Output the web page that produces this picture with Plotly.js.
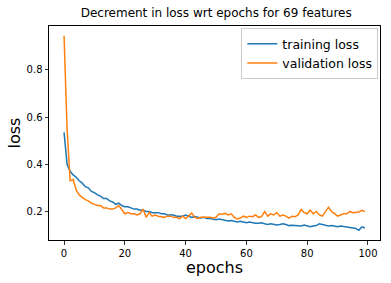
<!DOCTYPE html>
<html>
<head>
<meta charset="utf-8">
<script src="https://cdn.plot.ly/plotly-3.0.1.min.js"></script>
<style>html,body{margin:0;padding:0;background:#fff;}#chart{width:391px;height:283px;}</style>
</head>
<body>
<div id="chart"></div>
<script>
const epochs = Array.from({length: 100}, (_, i) => i);
const trainingLoss = [
0.535,0.40,0.37,0.355,0.345,0.33,0.32,0.305,0.30,0.285,
0.28,0.27,0.265,0.255,0.255,0.245,0.24,0.23,0.235,0.225,
0.22,0.22,0.215,0.21,0.21,0.205,0.205,0.20,0.20,0.195,
0.195,0.195,0.19,0.19,0.185,0.185,0.185,0.18,0.18,0.18,
0.185,0.18,0.175,0.178,0.175,0.172,0.175,0.17,0.17,0.168,
0.165,0.168,0.165,0.16,0.16,0.162,0.158,0.155,0.158,0.155,
0.152,0.155,0.152,0.15,0.15,0.152,0.148,0.145,0.148,0.145,
0.143,0.145,0.148,0.145,0.14,0.142,0.14,0.14,0.138,0.142,
0.14,0.135,0.138,0.14,0.148,0.145,0.14,0.138,0.14,0.137,
0.135,0.138,0.135,0.133,0.132,0.13,0.128,0.12,0.135,0.13];
const validationLoss = [
0.945,0.55,0.33,0.335,0.29,0.27,0.26,0.25,0.245,0.235,
0.23,0.225,0.225,0.215,0.215,0.21,0.21,0.215,0.225,0.205,
0.19,0.195,0.19,0.19,0.185,0.19,0.21,0.175,0.195,0.18,
0.185,0.18,0.178,0.175,0.18,0.18,0.175,0.175,0.17,0.18,
0.17,0.18,0.193,0.175,0.17,0.175,0.175,0.178,0.175,0.172,
0.175,0.19,0.188,0.192,0.185,0.19,0.175,0.168,0.172,0.18,
0.175,0.18,0.178,0.185,0.175,0.178,0.2,0.18,0.19,0.185,
0.195,0.18,0.185,0.18,0.172,0.18,0.178,0.185,0.208,0.195,
0.19,0.205,0.19,0.2,0.185,0.18,0.2,0.218,0.2,0.19,
0.18,0.185,0.19,0.19,0.2,0.195,0.198,0.198,0.205,0.2];
const seriesNames = ["training loss", "validation loss"];
const titleText = "Decrement in loss wrt epochs for 69 features";
const xTicks = [0, 20, 40, 60, 80, 100];
const yTicks = [0.2, 0.4, 0.6, 0.8];

const font = "DejaVu Sans, sans-serif";
const traces = [
  {x: epochs, y: trainingLoss, name: seriesNames[0], type: "scatter", mode: "lines",
   line: {color: "#1f77b4", width: 1.5}},
  {x: epochs, y: validationLoss, name: seriesNames[1], type: "scatter", mode: "lines",
   line: {color: "#ff7f0e", width: 1.5}}
];
const axisCommon = {
  showgrid: false, zeroline: false, showline: true, mirror: true,
  linecolor: "#000", linewidth: 1, ticks: "outside", ticklen: 3.5, tickwidth: 0.8,
  tickcolor: "#000", tickfont: {family: font, size: 10, color: "#000"}
};
const layout = {
  width: 391, height: 283,
  margin: {l: 49, r: 11, t: 26, b: 43, pad: 0},
  paper_bgcolor: "#fff", plot_bgcolor: "#fff",
  title: {text: titleText, font: {family: font, size: 12, color: "#000"},
          x: 0.553, xanchor: "center", y: 0.955, yanchor: "middle"},
  xaxis: Object.assign({}, axisCommon, {
    range: [-4.95, 103.95], tickvals: xTicks, ticktext: xTicks.map(String),
    title: {text: "epochs", font: {family: font, size: 16, color: "#000"}, standoff: 4}
  }),
  yaxis: Object.assign({}, axisCommon, {
    range: [0.079, 0.986], tickvals: yTicks, ticktext: yTicks.map(v => v.toFixed(1)),
    title: {text: "loss", font: {family: font, size: 16, color: "#000"}, standoff: 1}
  }),
  showlegend: true,
  legend: {x: 0.995, xanchor: "right", y: 0.99, yanchor: "top",
           bgcolor: "rgba(255,255,255,0.8)", bordercolor: "#ccc", borderwidth: 1,
           itemwidth: 30,
           font: {family: font, size: 12.5, color: "#000"}, tracegroupgap: 0}
};
Plotly.newPlot("chart", traces, layout, {displayModeBar: false, staticPlot: true});
</script>
</body>
</html>
